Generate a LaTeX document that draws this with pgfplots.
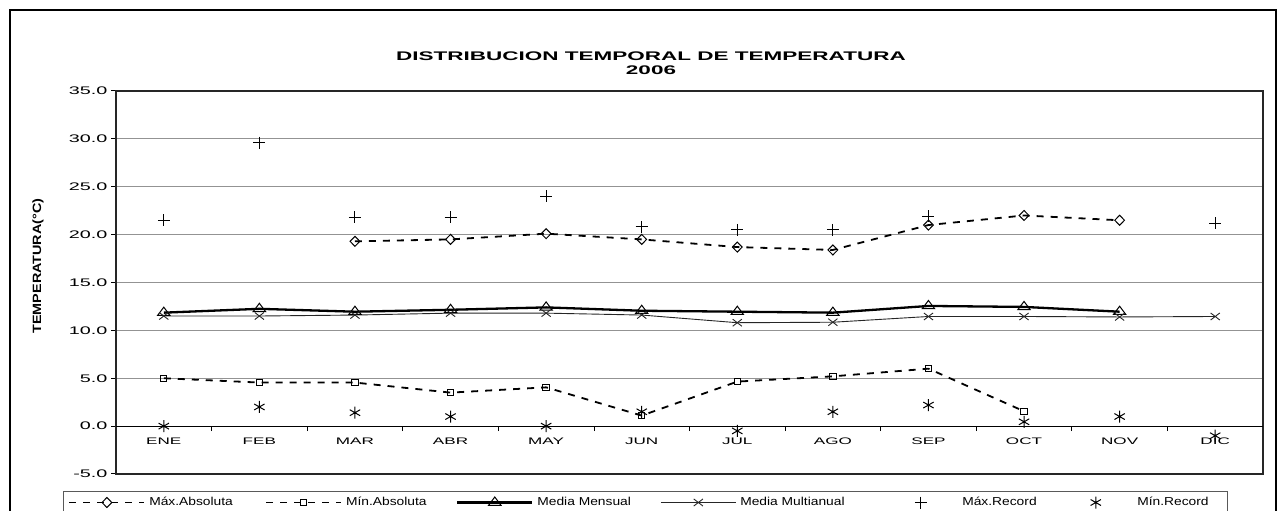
\documentclass[border=0pt]{standalone}
\usepackage{fontspec}
\setmainfont{Liberation Sans}[FakeStretch=1.8]
\newfontfamily\ylabfont{Liberation Sans}[FakeStretch=1.2]
\newfontfamily\legfont{Liberation Sans}[FakeStretch=1.2]
\usepackage{pgfplots}
\pgfplotsset{compat=1.18,
  linelegend/.style={legend image code/.code={\path[draw=none,fill=none] (0pt,-4pt) (75pt,4pt); \draw[mark repeat=2,mark phase=2,##1] plot coordinates {(0pt,0pt)(37.5pt,0pt)(75pt,0pt)};}},
  marklegend/.style={legend image code/.code={\path[draw=none,fill=none] (0pt,-4pt) (75pt,4pt); \draw[mark repeat=2,mark phase=2,##1] plot coordinates {(0pt,0pt)(37.5pt,0pt)(75pt,0pt)};}},
}
\begin{document}
\begin{tikzpicture}[x=1pt,y=1pt]
\useasboundingbox (0,0) rectangle (1280,511);
\clip (0,0) rectangle (1280,511);
\draw[line width=1.3pt] (10,-20) rectangle (1276,501);
\node[font=\bfseries\fontsize{12.5}{14}\selectfont] at (651,455) {DISTRIBUCION TEMPORAL DE TEMPERATURA};
\node[font=\bfseries\fontsize{12.5}{14}\selectfont] at (651,441) {2006};
\node[rotate=90,font=\ylabfont\bfseries\fontsize{12}{14}\selectfont] at (38,245) {TEMPERATURA(°C)};
\begin{axis}[at={(116pt,37pt)}, anchor=south west, width=1147pt, height=383pt, scale only axis,
  xmin=-0.5, xmax=11.5, ymin=-5, ymax=35,
  xtick=\empty, ytick={-5,0,...,35}, ytick pos=left,
  ymajorgrids, grid style={gray!85, line width=1.2pt},
  axis line style={black!85, line width=1.3pt},
  ytick align=outside, major tick length=5pt, tick style={black, line width=1pt},
  yticklabel style={font=\fontsize{11}{13}\selectfont, /pgf/number format/.cd, fixed, fixed zerofill, precision=1},
  /pgf/number format/assume math mode=true,
  legend columns=6,
  legend cell align=left,
  linelegend,
  legend style={at={(-0.0462,-0.0444)}, anchor=north west, draw=gray!70!black, line width=1pt,
     font=\legfont\fontsize{11.5}{13}\selectfont, inner xsep=5pt, inner ysep=5pt,
     nodes={inner sep=0pt}, column sep=0pt,
     /tikz/every odd column/.append style={column sep=4pt},
     /tikz/every even column/.append style={column sep=0pt}},
]
\addplot[black, line width=1.8pt, dash pattern=on 7pt off 7pt, mark=diamond, mark size=5pt, mark options={solid, line width=1pt, xscale=1.3}]
  coordinates {(2,19.3)(3,19.5)(4,20.1)(5,19.5)(6,18.7)(7,18.4)(8,21.0)(9,22.0)(10,21.5)};
\addlegendentry{\makebox[116pt][l]{Máx.Absoluta}}
\addplot[black, line width=1.8pt, dash pattern=on 7pt off 7pt, mark=square, mark size=3.2pt, mark options={solid, line width=1pt}]
  coordinates {(0,5.0)(1,4.55)(2,4.55)(3,3.5)(4,4.05)(5,1.1)(6,4.65)(7,5.2)(8,6.0)(9,1.55)};
\addlegendentry{\makebox[110pt][l]{Mín.Absoluta}}
\addplot[black, line width=2.3pt, mark=triangle, mark size=5.5pt, mark options={line width=1pt, xscale=1.3}]
  coordinates {(0,11.85)(1,12.25)(2,11.95)(3,12.15)(4,12.4)(5,12.05)(6,11.95)(7,11.85)(8,12.55)(9,12.45)(10,11.95)};
\addlegendentry{\makebox[123pt][l]{Media Mensual}}
\addplot[black!85, line width=0.9pt, mark=x, mark size=5pt, mark options={xscale=1.3}]
  coordinates {(0,11.5)(1,11.5)(2,11.6)(3,11.8)(4,11.8)(5,11.6)(6,10.8)(7,10.85)(8,11.45)(9,11.45)(10,11.4)(11,11.45)};
\addlegendentry{\makebox[143pt][l]{Media Multianual}}
\addplot[black, only marks, mark=+, mark size=6pt, mark options={line width=1pt}, marklegend]
  coordinates {(0,21.5)(1,29.6)(2,21.8)(3,21.8)(4,24.0)(5,20.8)(6,20.5)(7,20.5)(8,21.9)(11,21.2)};
\addlegendentry{\makebox[96pt][l]{Máx.Record}}
\addplot[black, only marks, mark=asterisk, mark size=6pt, mark options={line width=1pt}, marklegend]
  coordinates {(0,0)(1,2.0)(2,1.4)(3,1.0)(4,0)(5,1.5)(6,-0.5)(7,1.5)(8,2.2)(9,0.45)(10,1.0)(11,-1.0)};
\addlegendentry{\makebox[85pt][l]{Mín.Record}}
\end{axis}
\begin{axis}[at={(116pt,37pt)}, anchor=south west, width=1147pt, height=383pt, scale only axis,
  xmin=-0.5, xmax=11.5, ymin=-5, ymax=35,
  axis x line=middle, axis y line=none, hide obscured x ticks=false,
  x axis line style={black, line width=1.2pt, -},
  xtick={0,...,11},
  xticklabels={ENE,FEB,MAR,ABR,MAY,JUN,JUL,AGO,SEP,OCT,NOV,DIC},
  major tick length=0pt, minor xtick={0.5,1.5,...,10.5}, minor tick length=5pt,
  xtick align=outside, tick style={black, line width=0.8pt},
  xticklabel style={font=\fontsize{9.5}{11}\selectfont, yshift=-8pt},
]
\end{axis}
\end{tikzpicture}
\end{document}
